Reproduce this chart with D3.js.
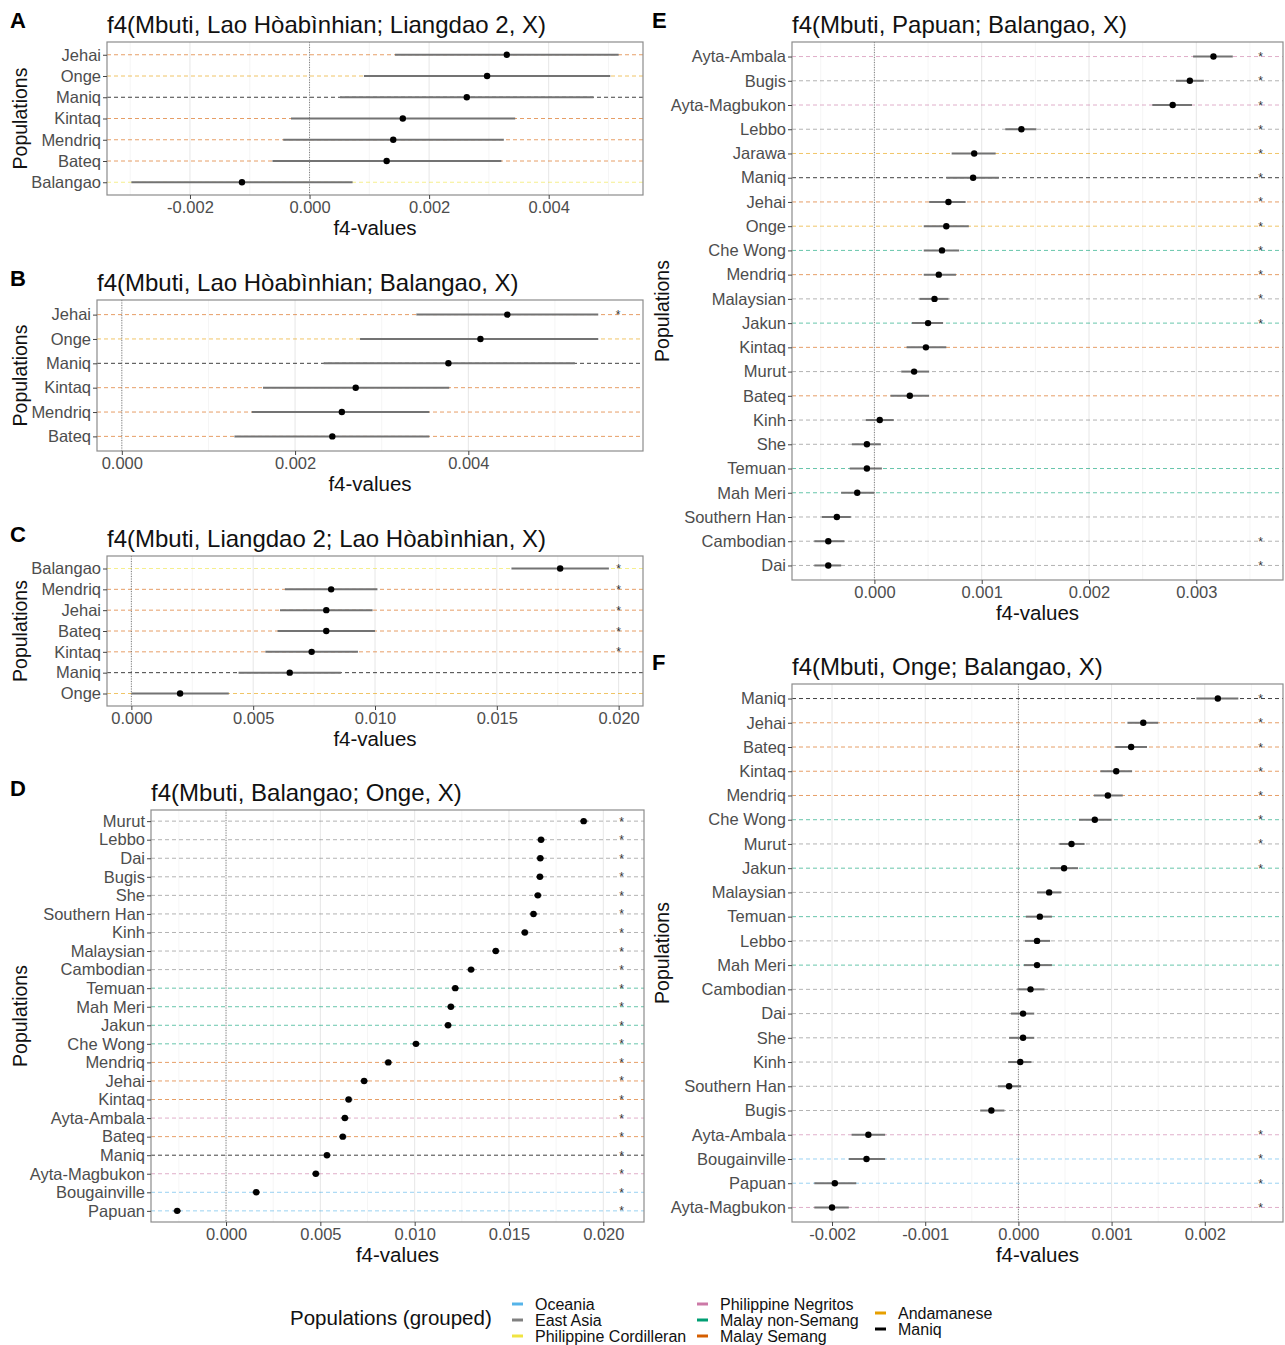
<!DOCTYPE html>
<html>
<head>
<meta charset="utf-8">
<script src="https://cdn.jsdelivr.net/npm/d3@7"></script>
<style>
  body { margin: 0; background: #fff; }
  text { font-family: "Liberation Sans", Arial, sans-serif; }
</style>
</head>
<body>
<svg id="chart"></svg>
<script>
// population groups (legend order) and their colours
const groupNames = ["Oceania", "East Asia", "Philippine Cordilleran", "Philippine Negritos",
  "Malay non-Semang", "Malay Semang", "Andamanese", "Maniq"];
const groupColors = ["#56B4E9", "#808080", "#F0E442", "#CC79A7", "#009E73", "#D55E00", "#E69F00", "#000000"];
const oceaniaPops = ["Papuan", "Bougainville"];
const eastAsiaPops = ["Dai", "Kinh", "She", "Southern Han", "Cambodian", "Malaysian", "Murut", "Lebbo", "Bugis"];
const cordilleranPops = ["Balangao"];
const negritoPops = ["Ayta-Ambala", "Ayta-Magbukon"];
const nonSemangPops = ["Temuan", "Mah Meri", "Jakun", "Che Wong"];
const semangPops = ["Jehai", "Kintaq", "Mendriq", "Bateq"];
const andamanesePops = ["Onge", "Jarawa"];
const maniqPops = ["Maniq"];

// panel A
const popsA = ["Jehai", "Onge", "Maniq", "Kintaq", "Mendriq", "Bateq", "Balangao"];
const f4A = [0.00330, 0.00297, 0.00263, 0.00156, 0.00140, 0.00129, -0.00113];
const loA = [0.00143, 0.00091, 0.00051, -0.00031, -0.00044, -0.00062, -0.00298];
const hiA = [0.00517, 0.00503, 0.00475, 0.00344, 0.00325, 0.00321, 0.00072];
const sigA = [false, false, false, false, false, false, false];

// panel B
const popsB = ["Jehai", "Onge", "Maniq", "Kintaq", "Mendriq", "Bateq"];
const f4B = [0.00445, 0.00414, 0.00377, 0.00270, 0.00254, 0.00243];
const loB = [0.00340, 0.00275, 0.00233, 0.00163, 0.00150, 0.00130];
const hiB = [0.00550, 0.00550, 0.00523, 0.00378, 0.00355, 0.00355];
const sigB = [true, false, false, false, false, false];

// panel C
const popsC = ["Balangao", "Mendriq", "Jehai", "Bateq", "Kintaq", "Maniq", "Onge"];
const f4C = [0.0176, 0.0082, 0.0080, 0.0080, 0.0074, 0.0065, 0.0020];
const loC = [0.0156, 0.0063, 0.0061, 0.0060, 0.0055, 0.0044, 0.0000];
const hiC = [0.0196, 0.0101, 0.0099, 0.0100, 0.0093, 0.0086, 0.0040];
const sigC = [true, true, true, true, true, false, false];

// panel D
const popsD = ["Murut", "Lebbo", "Dai", "Bugis", "She", "Southern Han", "Kinh", "Malaysian", "Cambodian",
  "Temuan", "Mah Meri", "Jakun", "Che Wong", "Mendriq", "Jehai", "Kintaq", "Ayta-Ambala", "Bateq",
  "Maniq", "Ayta-Magbukon", "Bougainville", "Papuan"];
const f4D = [0.01896, 0.01670, 0.01666, 0.01664, 0.01653, 0.01630, 0.01584, 0.01430, 0.01299,
  0.01215, 0.01192, 0.01177, 0.01007, 0.00860, 0.00732, 0.00650, 0.00630, 0.00619,
  0.00535, 0.00476, 0.00160, -0.00259];
const errD = [0.0002, 0.0002, 0.0002, 0.0002, 0.0002, 0.0002, 0.0002, 0.0002, 0.0002,
  0.0002, 0.0002, 0.0002, 0.0002, 0.0002, 0.0002, 0.0002, 0.0002, 0.0002,
  0.0002, 0.0002, 0.0002, 0.0002];
const sigD = popsD.map(() => true);

// panel E
const popsE = ["Ayta-Ambala", "Bugis", "Ayta-Magbukon", "Lebbo", "Jarawa", "Maniq", "Jehai", "Onge",
  "Che Wong", "Mendriq", "Malaysian", "Jakun", "Kintaq", "Murut", "Bateq", "Kinh", "She", "Temuan",
  "Mah Meri", "Southern Han", "Cambodian", "Dai"];
const f4E = [0.00316, 0.00294, 0.00278, 0.00137, 0.00093, 0.00092, 0.00069, 0.00067,
  0.00063, 0.00060, 0.00056, 0.00050, 0.00048, 0.00037, 0.00033, 0.00005, -0.00007, -0.00007,
  -0.00016, -0.00035, -0.00043, -0.00043];
const loE = [0.00297, 0.00281, 0.00259, 0.00122, 0.00072, 0.00067, 0.00051, 0.00046,
  0.00046, 0.00046, 0.00042, 0.00035, 0.00030, 0.00025, 0.00015, -0.00008, -0.00021, -0.00023,
  -0.00031, -0.00049, -0.00056, -0.00056];
const hiE = [0.00334, 0.00307, 0.00296, 0.00151, 0.00113, 0.00116, 0.00085, 0.00088,
  0.00079, 0.00076, 0.00069, 0.00064, 0.00067, 0.00051, 0.00051, 0.00018, 0.00006, 0.00007,
  0.00000, -0.00022, -0.00028, -0.00031];
const sigE = [true, true, true, true, true, true, true, true, true, true, true, true,
  false, false, false, false, false, false, false, false, true, true];

// panel F
const popsF = ["Maniq", "Jehai", "Bateq", "Kintaq", "Mendriq", "Che Wong", "Murut", "Jakun", "Malaysian",
  "Temuan", "Lebbo", "Mah Meri", "Cambodian", "Dai", "She", "Kinh", "Southern Han", "Bugis",
  "Ayta-Ambala", "Bougainville", "Papuan", "Ayta-Magbukon"];
const f4F = [0.00214, 0.00134, 0.00121, 0.00105, 0.00096, 0.00082, 0.00057, 0.00049, 0.00033,
  0.00023, 0.00020, 0.00020, 0.00013, 0.00005, 0.00005, 0.00002, -0.00010, -0.00029,
  -0.00161, -0.00163, -0.00197, -0.00200];
const loF = [0.00191, 0.00117, 0.00104, 0.00088, 0.00081, 0.00065, 0.00044, 0.00034, 0.00020,
  0.00008, 0.00007, 0.00006, -0.00001, -0.00008, -0.00010, -0.00011, -0.00022, -0.00041,
  -0.00179, -0.00182, -0.00219, -0.00219];
const hiF = [0.00236, 0.00150, 0.00138, 0.00122, 0.00112, 0.00100, 0.00071, 0.00064, 0.00046,
  0.00036, 0.00034, 0.00036, 0.00028, 0.00017, 0.00017, 0.00014, 0.00003, -0.00015,
  -0.00143, -0.00143, -0.00174, -0.00182];
const sigF = [true, true, true, true, true, true, true, true, false, false, false, false,
  false, false, false, false, false, false, true, true, true, true];

// x position of the significance asterisks
const starX = { B: 0.00573, C: 0.0200, D: 0.02097, E: 0.00360, F: 0.00260 };

// tick values
const ticksA = [-0.002, 0, 0.002, 0.004];
const ticksB = [0, 0.002, 0.004];
const ticksC = [0, 0.005, 0.010, 0.015, 0.020];
const ticksD = [0, 0.005, 0.010, 0.015, 0.020];
const ticksE = [0, 0.001, 0.002, 0.003];
const ticksF = [-0.002, -0.001, 0, 0.001, 0.002];

// lookup population -> group colour
const groupLists = [oceaniaPops, eastAsiaPops, cordilleranPops, negritoPops,
  nonSemangPops, semangPops, andamanesePops, maniqPops];
const popColor = {};
groupLists.forEach((list, i) => list.forEach(p => popColor[p] = groupColors[i]));

const width = 1285, height = 1345;
const svg = d3.select("#chart").attr("width", width).attr("height", height);

const panels = [
  { letter: "A", title: "f4(Mbuti, Lao Hòabìnhian; Liangdao 2, X)", pops: popsA, f4: f4A, lo: loA, hi: hiA,
    sig: sigA, ticks: ticksA, left: 107, right: 643, top: 42, bottom: 195, letterX: 10, popX: 27 },
  { letter: "B", title: "f4(Mbuti, Lao Hòabìnhian; Balangao, X)", pops: popsB, f4: f4B, lo: loB, hi: hiB,
    sig: sigB, ticks: ticksB, left: 97, right: 643, top: 300, bottom: 451, letterX: 10, popX: 27 },
  { letter: "C", title: "f4(Mbuti, Liangdao 2; Lao Hòabìnhian, X)", pops: popsC, f4: f4C, lo: loC, hi: hiC,
    sig: sigC, ticks: ticksC, left: 107, right: 643, top: 556, bottom: 706, letterX: 10, popX: 27 },
  { letter: "D", title: "f4(Mbuti, Balangao; Onge, X)", pops: popsD, f4: f4D,
    lo: f4D.map((v, i) => v - errD[i]), hi: f4D.map((v, i) => v + errD[i]),
    sig: sigD, ticks: ticksD, left: 151, right: 644, top: 810, bottom: 1222, letterX: 10, popX: 27 },
  { letter: "E", title: "f4(Mbuti, Papuan; Balangao, X)", pops: popsE, f4: f4E, lo: loE, hi: hiE,
    sig: sigE, ticks: ticksE, left: 792, right: 1283, top: 42, bottom: 580, letterX: 652, popX: 669 },
  { letter: "F", title: "f4(Mbuti, Onge; Balangao, X)", pops: popsF, f4: f4F, lo: loF, hi: hiF,
    sig: sigF, ticks: ticksF, left: 792, right: 1283, top: 684, bottom: 1222, letterX: 652, popX: 669 }
];

const fmt = d => d3.format(".3f")(d).replace("\u2212", "-");

panels.forEach(drawPanel);

function drawPanel(p) {
  const g = svg.append("g");
  const star = starX[p.letter];
  const hasStar = p.sig.some(s => s);

  // ggplot-like 5% expansion around data, zero line and asterisks
  const ext = d3.extent([0, ...p.lo, ...p.hi, ...(hasStar ? [star] : [])]);
  const pad = (ext[1] - ext[0]) * 0.05;
  const x = d3.scaleLinear().domain([ext[0] - pad, ext[1] + pad]).range([p.left, p.right]);
  const y = d3.scalePoint().domain(p.pops).range([p.top, p.bottom]).padding(0.6);

  // grid lines
  const half = (p.ticks[1] - p.ticks[0]) / 2;
  const [d0, d1] = x.domain();
  const iMin = Math.ceil((d0 - p.ticks[0]) / half), iMax = Math.floor((d1 - p.ticks[0]) / half);
  const minor = d3.range(iMin, iMax + 1).filter(i => Math.abs(i) % 2 === 1).map(i => p.ticks[0] + i * half);

  g.selectAll(".minor").data(minor).join("line")
    .attr("x1", d => x(d)).attr("x2", d => x(d))
    .attr("y1", p.top).attr("y2", p.bottom)
    .attr("stroke", "#f2f2f2").attr("stroke-width", 0.8);
  g.selectAll(".major").data(p.ticks).join("line")
    .attr("x1", d => x(d)).attr("x2", d => x(d))
    .attr("y1", p.top).attr("y2", p.bottom)
    .attr("stroke", "#e6e6e6").attr("stroke-width", 1);

  // dashed row lines coloured by group
  g.selectAll(".row").data(p.pops).join("line")
    .attr("x1", p.left).attr("x2", p.right)
    .attr("y1", d => y(d)).attr("y2", d => y(d))
    .attr("stroke", d => popColor[d])
    .attr("stroke-opacity", d => popColor[d] === "#000000" ? 0.75 : 0.6)
    .attr("stroke-width", 1)
    .attr("stroke-dasharray", "4,3");

  // zero line
  g.append("line")
    .attr("x1", x(0)).attr("x2", x(0))
    .attr("y1", p.top).attr("y2", p.bottom)
    .attr("stroke", "#666").attr("stroke-width", 0.8)
    .attr("stroke-dasharray", "1,1.5");

  // error bars
  g.selectAll(".err").data(p.pops).join("line")
    .attr("x1", (d, i) => x(p.lo[i])).attr("x2", (d, i) => x(p.hi[i]))
    .attr("y1", d => y(d)).attr("y2", d => y(d))
    .attr("stroke", "#737373").attr("stroke-width", 2);

  // points
  g.selectAll(".pt").data(p.pops).join("circle")
    .attr("cx", (d, i) => x(p.f4[i])).attr("cy", d => y(d))
    .attr("r", 3.2).attr("fill", "#000");

  // significance asterisks
  if (hasStar) {
    g.selectAll(".star").data(p.pops.filter((d, i) => p.sig[i])).join("text")
      .attr("x", x(star)).attr("y", d => y(d) + 4.5)
      .attr("text-anchor", "middle")
      .attr("font-size", 12).attr("fill", "#333")
      .text("*");
  }

  // panel border
  g.append("rect")
    .attr("x", p.left).attr("y", p.top)
    .attr("width", p.right - p.left).attr("height", p.bottom - p.top)
    .attr("fill", "none").attr("stroke", "#8c8c8c").attr("stroke-width", 1.2);

  // axes
  const xAxis = g.append("g")
    .attr("transform", `translate(0,${p.bottom})`)
    .call(d3.axisBottom(x).tickValues(p.ticks).tickFormat(fmt).tickSize(4).tickPadding(2));
  const yAxis = g.append("g")
    .attr("transform", `translate(${p.left},0)`)
    .call(d3.axisLeft(y).tickSize(4).tickPadding(2));
  [xAxis, yAxis].forEach(a => {
    a.select(".domain").remove();
    a.selectAll(".tick line").attr("stroke", "#444");
    a.selectAll(".tick text").attr("font-size", 16.5).attr("fill", "#4d4d4d")
      .attr("font-family", "Liberation Sans, Arial, sans-serif");
  });

  // titles and labels
  g.append("text")
    .attr("x", p.letterX).attr("y", p.top - 14)
    .attr("font-size", 22).attr("font-weight", "bold").attr("fill", "#000")
    .text(p.letter);
  g.append("text")
    .attr("x", p.left).attr("y", p.top - 9)
    .attr("font-size", 24).attr("fill", "#111")
    .text(p.title);
  g.append("text")
    .attr("x", (p.left + p.right) / 2).attr("y", p.bottom + 40)
    .attr("text-anchor", "middle")
    .attr("font-size", 20.5).attr("fill", "#111")
    .text("f4-values");
  g.append("text")
    .attr("transform", `translate(${p.popX},${(p.top + p.bottom) / 2}) rotate(-90)`)
    .attr("text-anchor", "middle")
    .attr("font-size", 19.5).attr("fill", "#111")
    .text("Populations");
}

// legend
const legend = svg.append("g");
legend.append("text")
  .attr("x", 290).attr("y", 1325)
  .attr("font-size", 20.5).attr("fill", "#111")
  .text("Populations (grouped)");

const legendCols = [[0, 1, 2], [3, 4, 5], [6, 7]];
const colX = [512, 697, 875];
const colY0 = [1304, 1304, 1313];

legendCols.forEach((col, c) => {
  col.forEach((gi, r) => {
    const cy = colY0[c] + r * 16;
    legend.append("line")
      .attr("x1", colX[c]).attr("x2", colX[c] + 11)
      .attr("y1", cy).attr("y2", cy)
      .attr("stroke", groupColors[gi]).attr("stroke-width", 3);
    legend.append("text")
      .attr("x", colX[c] + 23).attr("y", cy + 5.5)
      .attr("font-size", 16).attr("fill", "#111")
      .text(groupNames[gi]);
  });
});
</script>
</body>
</html>
